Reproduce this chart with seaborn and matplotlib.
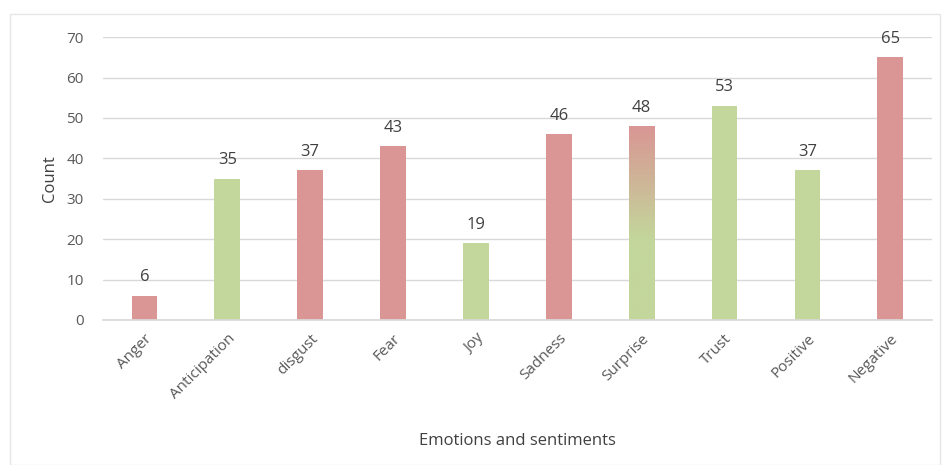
import numpy as np
import pandas as pd
import matplotlib
matplotlib.use("Agg")
import matplotlib.pyplot as plt
import seaborn as sns
from matplotlib.colors import LinearSegmentedColormap
from matplotlib.patches import Rectangle

categories = ["Anger", "Anticipation", "disgust", "Fear", "Joy", "Sadness",
              "Surprise", "Trust", "Positive", "Negative"]
counts = [6, 35, 37, 43, 19, 46, 48, 53, 37, 65]
polarity = ["neg", "pos", "neg", "neg", "pos", "neg", "mixed", "pos", "pos", "neg"]

RED = "#D99694"
GREEN = "#C3D69B"
TEXT = "#595959"

sns.set_theme(style="white")
plt.rcParams["font.family"] = ["Open Sans", "DejaVu Sans"]

df = pd.DataFrame({"cat": categories, "count": counts, "pol": polarity})

fig = plt.figure(figsize=(9.45, 4.65), dpi=100)
ax = fig.add_axes([0.109, 0.312, 0.877, 0.608])

sns.barplot(data=df, x="cat", y="count", hue="pol",
            palette={"neg": RED, "pos": GREEN, "mixed": RED},
            dodge=False, width=0.31, legend=False, ax=ax, saturation=1,
            linewidth=0)

# gradient for Surprise bar
cmap = LinearSegmentedColormap.from_list("g", [(0, GREEN), (0.42, GREEN), (1.0, RED)])
for p in ax.patches:
    x0 = p.get_x()
    w = p.get_width()
    h = p.get_height()
    xc = x0 + w / 2
    idx = int(round(xc))
    if 0 <= idx < len(polarity) and polarity[idx] == "mixed" and h > 0:
        grad = np.linspace(0, 1, 256).reshape(-1, 1)
        im = ax.imshow(grad, cmap=cmap, origin="lower", aspect="auto",
                       extent=[x0, x0 + w, 0, h], zorder=p.get_zorder() + 0.1)
        im.set_clip_path(p)

ax.set_xlim(-0.5, len(categories) - 0.5)
ax.set_ylim(0, 70)
ax.set_yticks(range(0, 71, 10))
ax.yaxis.grid(True, color="#D9D9D9", linewidth=1)
ax.set_axisbelow(True)
for s in ["top", "right", "left"]:
    ax.spines[s].set_visible(False)
ax.spines["bottom"].set_color("#D9D9D9")
ax.tick_params(axis="both", length=0, colors=TEXT, labelsize=11)
ax.tick_params(axis="y", pad=14)
ax.tick_params(axis="x", pad=8)
plt.setp(ax.get_xticklabels(), rotation=45, ha="right", rotation_mode="anchor")

for i, v in enumerate(counts):
    ax.text(i, v + 2.6, str(v), ha="center", va="bottom", fontsize=12, color="#404040")

ax.set_ylabel("Count", fontsize=12, color="#404040", labelpad=6)
ax.set_xlabel("Emotions and sentiments", fontsize=12, color="#404040", labelpad=22)

fig.patches.append(Rectangle((0.011, 0.0), 0.984, 0.97, transform=fig.transFigure,
                             fill=False, edgecolor="#E6E6E6", linewidth=1))

fig.savefig("out.png", dpi=100, facecolor="white")
